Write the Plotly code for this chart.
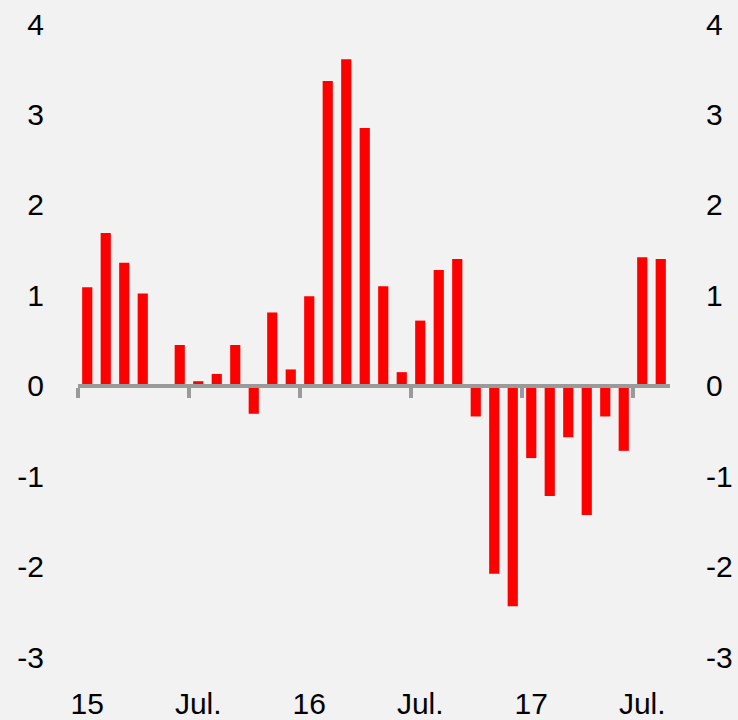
import plotly.graph_objects as go

months = [
    "2015-01", "2015-02", "2015-03", "2015-04", "2015-05", "2015-06",
    "2015-07", "2015-08", "2015-09", "2015-10", "2015-11", "2015-12",
    "2016-01", "2016-02", "2016-03", "2016-04", "2016-05", "2016-06",
    "2016-07", "2016-08", "2016-09", "2016-10", "2016-11", "2016-12",
    "2017-01", "2017-02", "2017-03", "2017-04", "2017-05", "2017-06",
    "2017-07", "2017-08",
]
values = [
    1.09, 1.69, 1.36, 1.02, None, 0.45,
    0.05, 0.13, 0.45, -0.31, 0.81, 0.18,
    0.99, 3.37, 3.61, 2.85, 1.10, 0.15,
    0.72, 1.28, 1.40, -0.34, -2.08, -2.44,
    -0.80, -1.22, -0.57, -1.43, -0.34, -0.72,
    1.42, 1.40,
]
x_label_idx = [0, 6, 12, 18, 24, 30]
x_label_text = ["15", "Jul.", "16", "Jul.", "17", "Jul."]
y_tick_vals = [-3, -2, -1, 0, 1, 2, 3, 4]
y_tick_text = ["-3", "-2", "-1", "0", "1", "2", "3", "4"]

xs = list(range(len(months)))
y_min, y_max = -3, 4
x_lo, x_hi = -0.5, len(months) - 0.5
boundaries = [i - 0.5 for i in x_label_idx]

FONT = dict(family="Liberation Sans, Arial, sans-serif", size=30, color="#000000")
BG = "#f2f2f2"
GRAY = "#9a9a9a"

fig = go.Figure()
fig.add_trace(go.Bar(
    x=xs, y=values, customdata=months,
    marker=dict(color="#ff0000", line=dict(width=0)),
    width=0.55, hovertemplate="%{customdata}: %{y}<extra></extra>",
))
# invisible helper trace so the secondary axes render
fig.add_trace(go.Scatter(
    x=xs, y=values, xaxis="x2", yaxis="y2", mode="markers",
    marker=dict(opacity=0, size=1), hoverinfo="skip", showlegend=False,
))

fig.update_layout(
    width=738, height=720,
    margin=dict(l=78, r=68, t=24, b=63, autoexpand=False),
    paper_bgcolor=BG, plot_bgcolor=BG,
    showlegend=False,
    font=FONT,
    xaxis=dict(
        range=[x_lo, x_hi], tickmode="array", tickvals=x_label_idx,
        ticktext=x_label_text, showgrid=False, zeroline=False, showline=False,
        ticks="outside", ticklen=20, tickcolor="rgba(0,0,0,0)", tickfont=FONT,
        automargin=False,
    ),
    xaxis2=dict(
        overlaying="x", anchor="free", position=(0 - y_min) / (y_max - y_min),
        range=[x_lo, x_hi], tickmode="array", tickvals=boundaries,
        showticklabels=False, showgrid=False, zeroline=False,
        showline=True, linecolor=GRAY, linewidth=4,
        ticks="outside", ticklen=10, tickwidth=4, tickcolor=GRAY,
        automargin=False,
    ),
    yaxis=dict(
        range=[y_min, y_max], tickmode="array", tickvals=y_tick_vals,
        ticktext=y_tick_text, showgrid=False, zeroline=False, showline=False,
        ticks="outside", ticklen=27, tickcolor="rgba(0,0,0,0)", tickfont=FONT,
        automargin=False,
    ),
    yaxis2=dict(
        overlaying="y", side="right", range=[y_min, y_max], tickmode="array",
        tickvals=y_tick_vals, ticktext=y_tick_text, showgrid=False,
        zeroline=False, showline=False, ticks="outside", ticklen=29,
        tickcolor="rgba(0,0,0,0)", tickfont=FONT, automargin=False,
    ),
)

fig.write_html(
    "out.html",
    config={"displayModeBar": False},
    post_script="document.body.style.margin='0';document.body.style.background='#f2f2f2';",
)
